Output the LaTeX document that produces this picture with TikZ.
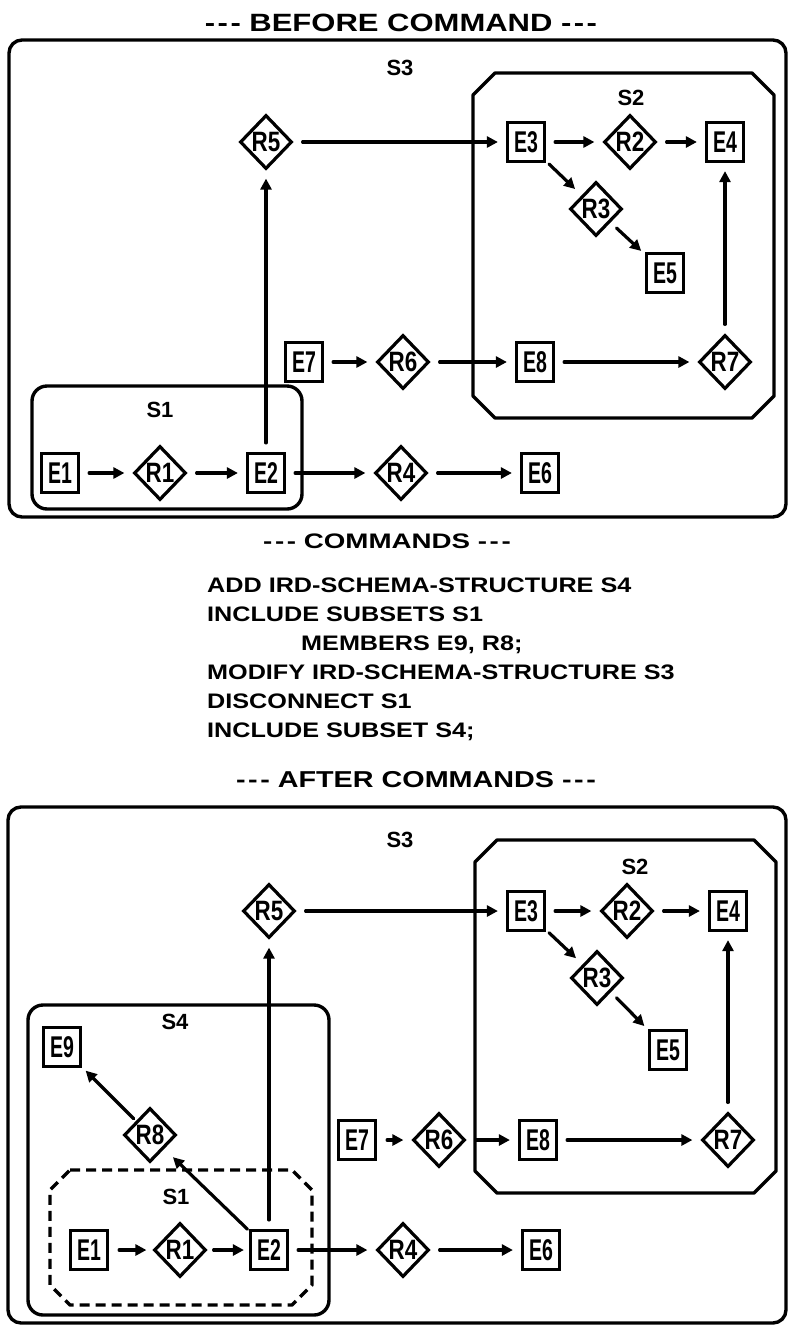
\documentclass[tikz,border=0pt]{standalone}
\usepackage{fontspec}
\setmainfont{Liberation Sans}
\usepackage{graphicx}
\usetikzlibrary{shapes.geometric,arrows.meta}
\newcommand{\ddd}{-\kern2pt-\kern2pt-}
\newcommand{\et}[1]{\scalebox{0.65}[1]{#1}}
\newcommand{\rt}[1]{\scalebox{0.8}[1]{#1}}
\tikzset{
  ent/.style={draw, line width=3.2pt, rectangle, minimum width=37pt, minimum height=39pt, inner sep=0pt,
    font=\bfseries\fontsize{30}{30}\selectfont},
  rel/.style={draw, line width=3.2pt, diamond, minimum width=52pt, minimum height=54pt, inner sep=0pt,
    font=\bfseries\fontsize{28}{28}\selectfont},
  conn/.style={line width=3.2pt, line cap=round, -{Triangle[length=11pt,width=11pt]}, shorten <=9pt, shorten >=8pt},
  lbl/.style={font=\bfseries\fontsize{22}{22}\selectfont, inner sep=0pt},
  ttl/.style={font=\bfseries\fontsize{#1}{#1}\selectfont, inner sep=0pt},
  cmd/.style={font=\bfseries\fontsize{21}{21}\selectfont, inner sep=0pt, anchor=base west},
  frame/.style={draw, line width=3.4pt, rounded corners=13pt},
  chamf/.style={draw, line width=3.4pt, line join=round},
  dashframe/.style={draw, line width=3.4pt, line join=round, dash pattern=on 10pt off 6pt},
}
\begin{document}
\begin{tikzpicture}[x=1pt,y=-1pt]
\fill[white] (0,0) rectangle (788,1326);
\useasboundingbox (0,0) rectangle (788,1326);

% ================= BEFORE =================
\node[ttl=25] (tbefore) at (401,23) {\scalebox{1.24}[1]{\ddd\ BEFORE COMMAND \ddd}};
\draw[frame] (9,40) rectangle (786,517);
\node[lbl] (s3a) at (400,68) {S3};
\draw[frame, rounded corners=15pt] (32,386) rectangle (302,509);
\node[lbl] (s1a) at (160,410) {S1};
\draw[chamf] (495,73) -- (752,73) -- (774,95) -- (774,396) -- (752,418) -- (495,418) -- (473,396) -- (473,95) -- cycle;
\node[lbl] (s2a) at (631,98) {S2};

\node[rel] (r5a) at (266,142) {\rt{R5}};
\node[ent] (e3a) at (526,142) {\et{E3}};
\node[rel] (r2a) at (630,142) {\rt{R2}};
\node[ent] (e4a) at (725,142) {\et{E4}};
\node[rel] (r3a) at (596,209) {\rt{R3}};
\node[ent] (e5a) at (665,273) {\et{E5}};
\node[ent] (e7a) at (304,362) {\et{E7}};
\node[rel] (r6a) at (403,362) {\rt{R6}};
\node[ent] (e8a) at (535,362) {\et{E8}};
\node[rel] (r7a) at (725,362) {\rt{R7}};
\node[ent] (e1a) at (60,473) {\et{E1}};
\node[rel] (r1a) at (160,473) {\rt{R1}};
\node[ent] (e2a) at (266,473) {\et{E2}};
\node[rel] (r4a) at (401,473) {\rt{R4}};
\node[ent] (e6a) at (540,473) {\et{E6}};

\draw[conn] (e1a) -- (r1a);
\draw[conn] (r1a) -- (e2a);
\draw[conn] (e2a) -- (r5a);
\draw[conn] (e2a) -- (r4a);
\draw[conn] (r4a) -- (e6a);
\draw[conn] (e7a) -- (r6a);
\draw[conn] (r6a) -- (e8a);
\draw[conn] (e8a) -- (r7a);
\draw[conn] (r7a) -- (e4a);
\draw[conn] (r5a) -- (e3a);
\draw[conn] (e3a) -- (r2a);
\draw[conn] (r2a) -- (e4a);
\draw[conn, shorten <=4pt, shorten >=9pt] (e3a) -- (r3a);
\draw[conn, shorten <=8pt, shorten >=5pt] (r3a) -- (e5a);

% ================= COMMANDS =================
\node[ttl=21] (tcmd) at (387,541) {\scalebox{1.32}[1]{\ddd\ COMMANDS \ddd}};
\node[cmd] (c1) at (207,592) {\scalebox{1.2}[1]{ADD IRD-SCHEMA-STRUCTURE S4}};
\node[cmd] (c2) at (207,621) {\scalebox{1.2}[1]{INCLUDE SUBSETS S1}};
\node[cmd] (c3) at (301,650) {\scalebox{1.2}[1]{MEMBERS E9, R8;}};
\node[cmd] (c4) at (207,679) {\scalebox{1.2}[1]{MODIFY IRD-SCHEMA-STRUCTURE S3}};
\node[cmd] (c5) at (207,708) {\scalebox{1.2}[1]{DISCONNECT S1}};
\node[cmd] (c6) at (207,737) {\scalebox{1.2}[1]{INCLUDE SUBSET S4;}};

% ================= AFTER =================
\node[ttl=23] (tafter) at (416,780) {\scalebox{1.25}[1]{\ddd\ AFTER COMMANDS \ddd}};
\draw[frame] (8,807) rectangle (786,1323);
\node[lbl] (s3b) at (400,840) {S3};
\draw[chamf] (497,840) -- (754,840) -- (776,862) -- (776,1171) -- (754,1193) -- (497,1193) -- (475,1171) -- (475,862) -- cycle;
\node[lbl] (s2b) at (635,867) {S2};
\draw[frame, rounded corners=15pt] (28,1005) rectangle (329,1315);
\node[lbl] (s4b) at (175,1022) {S4};
\draw[dashframe] (70,1170) -- (292,1170) -- (312,1190) -- (312,1285) -- (292,1305) -- (70,1305) -- (50,1285) -- (50,1190) -- cycle;
\node[lbl] (s1b) at (176,1197) {S1};

\node[rel] (r5b) at (269,911) {\rt{R5}};
\node[ent] (e3b) at (526,911) {\et{E3}};
\node[rel] (r2b) at (627,911) {\rt{R2}};
\node[ent] (e4b) at (728,911) {\et{E4}};
\node[rel] (r3b) at (597,978) {\rt{R3}};
\node[ent] (e5b) at (668,1050) {\et{E5}};
\node[ent] (e9b) at (62,1047) {\et{E9}};
\node[rel] (r8b) at (150,1135) {\rt{R8}};
\node[ent] (e7b) at (357,1140) {\et{E7}};
\node[rel] (r6b) at (439,1140) {\rt{R6}};
\node[ent] (e8b) at (538,1140) {\et{E8}};
\node[rel] (r7b) at (728,1140) {\rt{R7}};
\node[ent] (e1b) at (89,1250) {\et{E1}};
\node[rel] (r1b) at (180,1250) {\rt{R1}};
\node[ent] (e2b) at (269,1250) {\et{E2}};
\node[rel] (r4b) at (403,1250) {\rt{R4}};
\node[ent] (e6b) at (541,1250) {\et{E6}};

\draw[conn, shorten <=10pt, shorten >=6pt] (e1b) -- (r1b);
\draw[conn, shorten <=6pt, shorten >=5pt] (r1b) -- (e2b);
\draw[conn] (e2b) -- (r5b);
\draw[conn] (e2b) -- (r4b);
\draw[conn] (r4b) -- (e6b);
\draw[conn, shorten <=10pt, shorten >=8pt] (e7b) -- (r6b);
\draw[conn] (r6b) -- (e8b);
\draw[conn] (e8b) -- (r7b);
\draw[conn] (r7b) -- (e4b);
\draw[conn] (r5b) -- (e3b);
\draw[conn] (e3b) -- (r2b);
\draw[conn] (r2b) -- (e4b);
\draw[conn, shorten <=4pt, shorten >=9pt] (e3b) -- (r3b);
\draw[conn, shorten <=8pt, shorten >=5pt] (r3b) -- (e5b);
\draw[conn, shorten <=2pt, shorten >=12pt] (e2b) -- (r8b);
\draw[conn, shorten <=3pt, shorten >=5pt] (r8b) -- (e9b);
\end{tikzpicture}
\end{document}
